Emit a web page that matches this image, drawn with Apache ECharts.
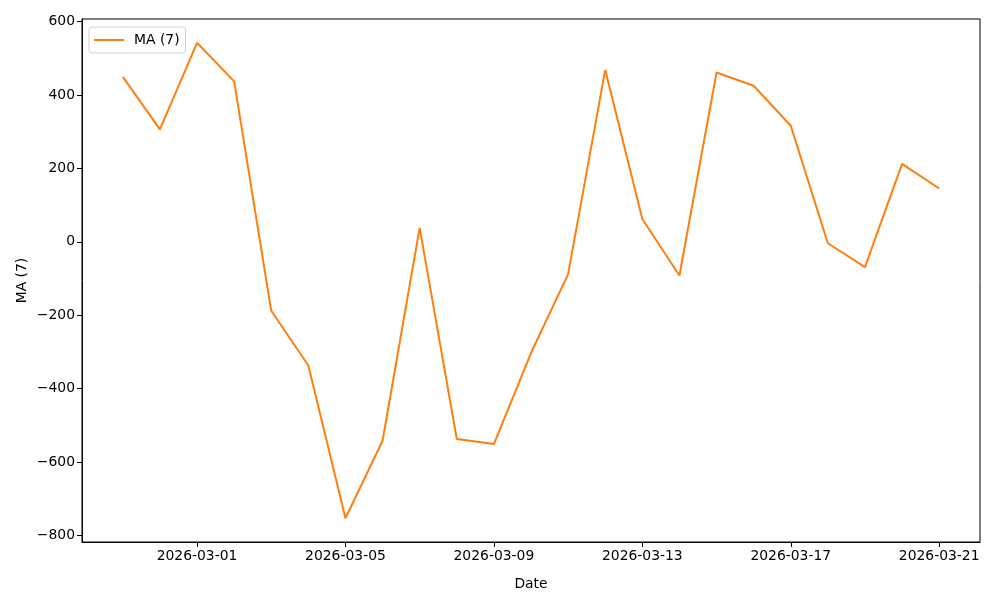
<!DOCTYPE html>
<html>
<head>
<meta charset="utf-8">
<script src="https://cdn.jsdelivr.net/npm/echarts@6/dist/echarts.min.js"></script>
<style>html,body{margin:0;padding:0;background:#fff}#c{width:1000px;height:600px}</style>
</head>
<body>
<div id="c"></div>
<script>
const dates = ['2026-02-27','2026-02-28','2026-03-01','2026-03-02','2026-03-03','2026-03-04','2026-03-05','2026-03-06','2026-03-07','2026-03-08','2026-03-09','2026-03-10','2026-03-11','2026-03-12','2026-03-13','2026-03-14','2026-03-15','2026-03-16','2026-03-17','2026-03-18','2026-03-19','2026-03-20','2026-03-21'];
const ma7 = [449, 306, 542, 437, -188, -337, -753, -542, 38, -537, -551, -303, -88, 468, 62, -92, 461, 425, 316, -4, -69, 212, 145];
const xTickLabels = ['2026-03-01','2026-03-05','2026-03-09','2026-03-13','2026-03-17','2026-03-21'];
const yTicks = [-800, -600, -400, -200, 0, 200, 400, 600];
const seriesName = 'MA (7)';

const ts = s => { const p = s.split('-').map(Number); return Date.UTC(p[0], p[1]-1, p[2]); };
const xs = dates.map(ts);
const xmin = xs[0], xmax = xs[xs.length-1];
const xpad = (xmax - xmin) * 0.05;
const ymin0 = Math.min(...ma7), ymax0 = Math.max(...ma7);
const ypad = (ymax0 - ymin0) * 0.05;
const fmt = v => { const d = new Date(v); const p = n => String(n).padStart(2,'0'); return d.getUTCFullYear()+'-'+p(d.getUTCMonth()+1)+'-'+p(d.getUTCDate()); };
const FONT = 'DejaVu Sans';

const chart = echarts.init(document.getElementById('c'), null, {renderer: 'canvas'});
chart.setOption({
  animation: false,
  textStyle: {fontFamily: FONT},
  grid: {left: 82, right: 20, top: 19, bottom: 58, show: true, borderColor: '#000', borderWidth: 1, containLabel: false},
  legend: {
    left: 89, top: 27, padding: [6, 6, 6, 5], itemWidth: 30, itemHeight: 12, itemGap: 8,
    borderColor: '#d0d0d0', borderWidth: 1, borderRadius: 3, backgroundColor: 'rgba(255,255,255,0.8)',
    textStyle: {fontFamily: FONT, fontSize: 13.9, color: '#000', padding: [0, 0, 0, 5]},
    data: [{name: seriesName, icon: 'path://M0,0 L30,0 L30,2 L0,2 Z'}]
  },
  xAxis: {
    type: 'value', min: xmin - xpad, max: xmax + xpad,
    name: 'Date', nameLocation: 'middle', nameGap: 35, nameMoveOverlap: false,
    nameTextStyle: {fontFamily: FONT, fontSize: 13.9, color: '#000'},
    axisLine: {show: true, onZero: false, lineStyle: {color: '#000', width: 1}},
    axisTick: {show: true, length: 5, lineStyle: {color: '#000'}, customValues: xTickLabels.map(ts)},
    axisLabel: {color: '#000', fontFamily: FONT, fontSize: 13.9, margin: 7, customValues: xTickLabels.map(ts), formatter: v => fmt(v)},
    splitLine: {show: false}
  },
  yAxis: {
    type: 'value', min: ymin0 - ypad, max: ymax0 + ypad,
    name: seriesName, nameLocation: 'middle', nameGap: 53, nameRotate: 90, nameMoveOverlap: false,
    nameTextStyle: {fontFamily: FONT, fontSize: 13.9, color: '#000'},
    axisLine: {show: true, onZero: false, lineStyle: {color: '#000', width: 1}},
    axisTick: {show: true, length: 5, lineStyle: {color: '#000'}, customValues: yTicks},
    axisLabel: {color: '#000', fontFamily: FONT, fontSize: 13.9, margin: 7, customValues: yTicks, formatter: v => v < 0 ? '\u2212' + Math.abs(v) : String(v)},
    splitLine: {show: false}
  },
  series: [{
    name: seriesName, type: 'line', symbol: 'none',
    data: xs.map((x, i) => [x, ma7[i]]),
    lineStyle: {color: '#ff7f0e', width: 2},
    itemStyle: {color: '#ff7f0e'}
  }]
});
</script>
</body>
</html>
